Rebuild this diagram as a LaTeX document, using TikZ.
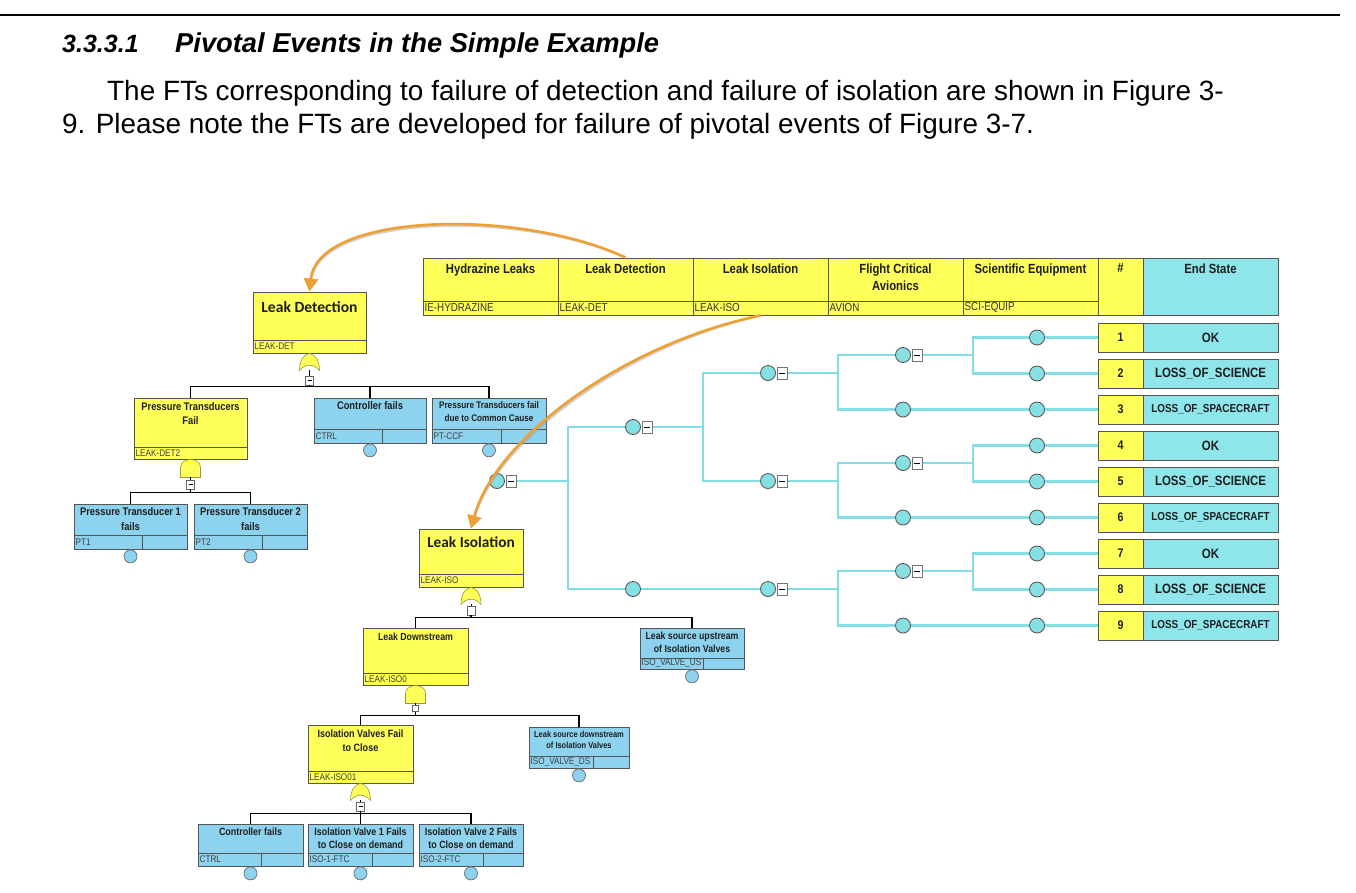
\documentclass[tikz,border=0pt]{standalone}
\usepackage{fontspec}
\setmainfont{Liberation Sans}
\newfontfamily\narrowf[FakeStretch=0.85]{Liberation Sans}
\newfontfamily\calibf{Carlito}
\usetikzlibrary{arrows.meta,fit,calc}
\definecolor{ylw}{HTML}{FFFF5A}
\definecolor{ftbl}{HTML}{8DD3EF}
\definecolor{esc}{HTML}{8EE6EA}
\definecolor{etl}{HTML}{82DEE2}
\definecolor{etcf}{HTML}{86E0E2}
\definecolor{org}{HTML}{EFA035}
\definecolor{bdr}{HTML}{555555}
\definecolor{txt}{HTML}{1E1E1E}
\definecolor{bigt}{HTML}{3A3A3A}

\newcommand\ttf{\narrowf\bfseries\fontsize{11}{14}\selectfont}
\newcommand\setttf[2]{\renewcommand\ttf{\narrowf\bfseries\fontsize{#1}{#2}\selectfont}}

% gate box: [title offset]{name}{x1}{y1}{x2}{y2}{ydiv}{title}{id}
\newcommand\ftgate[9][5]{%
  \node[ygbox, fit={(#3,#4) (#5,#6)}] (#2) {};
  \draw[divl] (#3,#7) -- (#5,#7);
  \node[fttitle, anchor=north] at ($(#2.north)+(0,#1)$) {#8};
  \node[ftid, anchor=west] at ($(#3,#7)!0.5!(#3,#6)$) {#9};
}
% basic event: {name}{x1}{y1}{x2}{y2}{ydiv}{xsplit}{title}{id}
\newcommand\ftbasic[9]{%
  \node[bbox, fit={(#2,#3) (#4,#5)}] (#1) {};
  \draw[divl] (#2,#6) -- (#4,#6);
  \draw[divl] (#7,#6) -- (#7,#5);
  \node[fttitle, anchor=north] at ($(#1.north)+(0,4)$) {#8};
  \node[ftid, anchor=west] at ($(#2,#6)!0.5!(#2,#5)$) {#9};
  \node[ftcirc, anchor=north] (#1c) at (#1.south) {};
}
% event tree header column: {name}{x1}{title}{id}
\newcommand\etcol[4]{%
  \node[ycell, fit={(#2,258) ({#2+135},315)}] (#1) {};
  \draw[divl] (#2,301) -- ({#2+135},301);
  \node[ettitle, anchor=north] at ($(#1.north)+(0,6)$) {#3};
  \node[etid, anchor=west] at (#2,308) {#4};
}

\begin{document}
\begin{tikzpicture}[x=1pt,y=-1pt,
  ygbox/.style={draw=bdr, line width=0.9, fill=ylw, inner sep=0},
  bbox/.style={draw=bdr, line width=0.9, fill=ftbl, inner sep=0},
  divl/.style={draw=bdr, line width=0.8},
  fttitle/.style={font=\ttf, text=txt, align=center, inner sep=0},
  ftid/.style={font=\narrowf\fontsize{9.6}{10}\selectfont, text=black!75, inner sep=1.5},
  ftcirc/.style={circle, draw=black!55, fill=ftbl, minimum size=13, inner sep=0, line width=0.8},
  ftm/.style={draw=black!60, fill=white, minimum width=8, minimum height=9, inner sep=0, line width=0.6},
  treeln/.style={draw=black, line width=1.6},
  gatefill/.style={fill=ylw, draw=ylw!60!black, line width=0.6},
  etline/.style={draw=etl, line width=2.4},
  etcn/.style={circle, draw=black!65, fill=etcf, minimum size=15, inner sep=0, line width=0.9},
  etm/.style={draw=black!55, fill=white, minimum width=10, minimum height=12, inner sep=0, line width=0.7},
  ycell/.style={draw=bdr, fill=ylw, line width=0.9, inner sep=0},
  ccell/.style={draw=bdr, fill=esc, line width=0.9, inner sep=0},
  ettitle/.style={font=\narrowf\bfseries\fontsize{13.3}{17}\selectfont, text=txt, align=center, inner sep=0},
  etid/.style={font=\narrowf\fontsize{11.5}{11.5}\selectfont, text=black!80, inner sep=1.5},
  estxt/.style={text=txt, inner sep=0},
  oarrow/.style={draw=org, line width=2.6, -{Triangle[length=13pt,width=14pt]}},
  oshadow/.style={draw=black!40, line width=2.6, opacity=0.45, -{Triangle[length=13pt,width=14pt]}},
  orgate/.pic={\path[gatefill] (-10,17) .. controls (-10,7) and (-6,1) .. (0,0) .. controls (6,1) and (10,7) .. (10,17) .. controls (4,10) and (-4,10) .. (-10,17) -- cycle;},
  andgate/.pic={\path[gatefill] (-10,18) -- (-10,8) .. controls (-10,-2.5) and (10,-2.5) .. (10,8) -- (10,18) -- cycle;}
]
\useasboundingbox (0,0) rectangle (1356,892);
\fill[white] (0,0) rectangle (1356,892);

% ---------- page text ----------
\draw[line width=2] (0,15) -- (1340,15);
\node[anchor=base west, inner sep=0, font=\fontsize{25}{28}\selectfont\bfseries\itshape] (hd1) at (62,52) {3.3.3.1};
\node[anchor=base west, inner sep=0, font=\fontsize{27.3}{30}\selectfont\bfseries\itshape] (hd2) at (175,52) {Pivotal Events in the Simple Example};
\node[anchor=base west, inner sep=0, font=\fontsize{27.9}{32}\selectfont] (p1) at (107,100) {The FTs corresponding to failure of detection and failure of isolation are shown in Figure 3-};
\node[anchor=base west, inner sep=0, font=\fontsize{27.9}{32}\selectfont] (p2) at (62,133) {9. Please note the FTs are developed for failure of pivotal events of Figure 3-7.};

% ---------- event tree header ----------
\etcol{hHL}{423}{Hydrazine Leaks}{IE-HYDRAZINE}
\etcol{hLD}{558}{Leak Detection}{LEAK-DET}
\etcol{hLI}{693}{Leak Isolation}{LEAK-ISO}
\etcol{hFC}{828}{Flight Critical\\Avionics}{AVION}
\etcol{hSE}{963}{Scientific Equipment}{SCI-EQUIP}
\node[ycell, fit={(1098,258) (1143,315)}] (hN) {};
\node[ettitle, anchor=north] at ($(hN.north)+(0,6)$) {\#};
\node[ccell, fit={(1143,258) (1278,315)}] (hES) {};
\node[ettitle, anchor=north] at ($(hES.north)+(0,6)$) {End State};

% ---------- end states ----------
\foreach \k/\t/\s in {1/OK/13.5, 2/LOSS\_OF\_SCIENCE/13.5, 3/LOSS\_OF\_SPACECRAFT/11.6, 4/OK/13.5, 5/LOSS\_OF\_SCIENCE/13.5, 6/LOSS\_OF\_SPACECRAFT/11.6, 7/OK/13.5, 8/LOSS\_OF\_SCIENCE/13.5, 9/LOSS\_OF\_SPACECRAFT/11.6}{
  \pgfmathsetmacro\yt{323+36*(\k-1)}
  \node[ycell, fit={(1098,\yt) (1143,{\yt+29})}] (N\k) {};
  \node[ccell, fit={(1143,\yt) (1278,{\yt+29})}] (S\k) {};
  \node[estxt, font=\narrowf\bfseries\fontsize{12.5}{12.5}\selectfont] at (N\k.center) {\k};
  \node[estxt, font=\narrowf\bfseries\fontsize{\s}{\s}\selectfont] at (S\k.center) {\t};
  \node[etcn] (E\k) at (1037,{\yt+14.5}) {};
}

% ---------- event tree ----------
\node[etcn] (I) at (497,481) {};
\node[etm, anchor=west] (Im) at ($(I.east)+(1,0)$) {\rule{6pt}{0.8pt}};
\coordinate (j1) at (568,481);
\node[etcn] (A) at (633,427) {};
\node[etm, anchor=west] (Am) at ($(A.east)+(1,0)$) {\rule{6pt}{0.8pt}};
\node[etcn] (B) at (633,589) {};
\coordinate (j2) at (703,427);
\node[etcn] (AA) at (768,373) {};
\node[etm, anchor=west] (AAm) at ($(AA.east)+(1,0)$) {\rule{6pt}{0.8pt}};
\node[etcn] (AB) at (768,481) {};
\node[etm, anchor=west] (ABm) at ($(AB.east)+(1,0)$) {\rule{6pt}{0.8pt}};
\node[etcn] (BA) at (768,589) {};
\node[etm, anchor=west] (BAm) at ($(BA.east)+(1,0)$) {\rule{6pt}{0.8pt}};
\coordinate (j3) at (838,373);
\coordinate (j4) at (838,481);
\coordinate (j5) at (838,589);
\node[etcn] (AAA) at (903,355) {};
\node[etm, anchor=west] (AAAm) at ($(AAA.east)+(1,0)$) {\rule{6pt}{0.8pt}};
\node[etcn] (AAB) at (903,409.5) {};
\node[etcn] (ABA) at (903,463) {};
\node[etm, anchor=west] (ABAm) at ($(ABA.east)+(1,0)$) {\rule{6pt}{0.8pt}};
\node[etcn] (ABB) at (903,517.5) {};
\node[etcn] (BAA) at (903,571) {};
\node[etm, anchor=west] (BAAm) at ($(BAA.east)+(1,0)$) {\rule{6pt}{0.8pt}};
\node[etcn] (BAB) at (903,625.5) {};
\coordinate (j6) at (973,355);
\coordinate (j7) at (973,463);
\coordinate (j8) at (973,571);

\draw[etline] (Im.east) -- (j1);
\draw[etline] (A.west) -| (j1);
\draw[etline] (B.west) -| (j1);
\draw[etline] (Am.east) -- (j2);
\draw[etline] (AA.west) -| (j2);
\draw[etline] (AB.west) -| (j2);
\draw[etline] (B.east) -- (BA.west);
\draw[etline] (AAm.east) -- (j3);
\draw[etline] (AAA.west) -| (j3);
\draw[etline] (AAB.west) -| (j3);
\draw[etline] (ABm.east) -- (j4);
\draw[etline] (ABA.west) -| (j4);
\draw[etline] (ABB.west) -| (j4);
\draw[etline] (BAm.east) -- (j5);
\draw[etline] (BAA.west) -| (j5);
\draw[etline] (BAB.west) -| (j5);
\draw[etline] (AAAm.east) -- (j6);
\draw[etline] (E1.west) -| (j6);
\draw[etline] (E2.west) -| (j6);
\draw[etline] (AAB.east) -- (E3.west);
\draw[etline] (ABAm.east) -- (j7);
\draw[etline] (E4.west) -| (j7);
\draw[etline] (E5.west) -| (j7);
\draw[etline] (ABB.east) -- (E6.west);
\draw[etline] (BAAm.east) -- (j8);
\draw[etline] (E7.west) -| (j8);
\draw[etline] (E8.west) -| (j8);
\draw[etline] (BAB.east) -- (E9.west);
\foreach \k in {1,...,9}{\draw[etline] (E\k.east) -- (N\k.west);}

% ---------- fault tree: Leak Detection ----------
\renewcommand\ttf{\calibf\bfseries\fontsize{15.6}{17}\selectfont\color{bigt}}
\ftgate[10]{LD}{253}{292}{366}{353}{340}{Leak Detection}{LEAK-DET}
\setttf{11}{14}
\ftgate{PTF}{134}{398}{247}{459}{447}{Pressure Transducers\\Fail}{LEAK-DET2}
\ftbasic{CTRL}{314}{398}{426}{443}{429}{382}{Controller fails}{CTRL}
\setttf{9.6}{12.5}
\ftbasic{CCF}{432}{398}{546}{443}{429}{501}{Pressure Transducers fail\\due to Common Cause}{PT-CCF}
\setttf{11}{14.5}
\ftbasic{PT1}{74}{504}{187}{549}{535}{142}{Pressure Transducer 1\\fails}{PT1}
\ftbasic{PT2}{194}{504}{307}{549}{535}{262}{Pressure Transducer 2\\fails}{PT2}

\pic at (LD.south) {orgate};
\coordinate (g1) at ($(LD.south)+(0,17)$);
\node[ftm] (g1m) at ($(LD.south)+(0,27)$) {\rule{4pt}{0.6pt}};
\coordinate (g1b) at ($(LD.south)+(0,33)$);
\draw[treeln, line width=0.8] (g1) -- (g1m.north);
\draw[treeln] (g1m.south) -- (g1b);
\draw[treeln] (PTF.north) |- (g1b) -| (CCF.north);
\draw[treeln] (CTRL.north) |- (g1b);

\pic at (PTF.south) {andgate};
\coordinate (g2) at ($(PTF.south)+(0,18)$);
\node[ftm] (g2m) at ($(PTF.south)+(0,25)$) {\rule{4pt}{0.6pt}};
\coordinate (g2b) at ($(PTF.south)+(0,33)$);
\draw[treeln, line width=0.8] (g2) -- (g2m.north);
\draw[treeln] (g2m.south) -- (g2b);
\draw[treeln] (PT1.north) |- (g2b) -| (PT2.north);

% ---------- fault tree: Leak Isolation ----------
\renewcommand\ttf{\calibf\bfseries\fontsize{15.3}{17}\selectfont\color{bigt}}
\ftgate[8]{LI}{419}{529}{523}{587}{574}{Leak Isolation}{LEAK-ISO}
\setttf{10.3}{13}
\ftgate{LDS}{363}{628}{468}{685}{673}{Leak Downstream}{LEAK-ISO0}
\ftbasic{LUS}{640}{628}{744}{669}{658}{703}{Leak source upstream\\of Isolation Valves}{ISO\_VALVE\_US}
\setttf{10.6}{14}
\ftgate{IVF}{308}{725}{413}{783}{771}{Isolation Valves Fail\\to Close}{LEAK-ISO01}
\setttf{8.8}{11}
\ftbasic{LSD}{529}{727}{629}{768}{756}{593}{Leak source downstream\\of Isolation Valves}{ISO\_VALVE\_DS}
\setttf{10.5}{13.5}
\ftbasic{CF2}{198}{824}{303}{866}{853}{261}{Controller fails}{CTRL}
\ftbasic{IV1}{308}{824}{413}{866}{853}{372}{Isolation Valve 1 Fails\\to Close on demand}{ISO-1-FTC}
\ftbasic{IV2}{419}{824}{523}{866}{853}{483}{Isolation Valve 2 Fails\\to Close on demand}{ISO-2-FTC}

\pic at (LI.south) {orgate};
\coordinate (g3) at ($(LI.south)+(0,17)$);
\node[ftm] (g3m) at ($(LI.south)+(0,23)$) {};
\coordinate (g3b) at ($(LI.south)+(0,30)$);
\draw[treeln, line width=0.8] (g3) -- (g3m.north);
\draw[treeln] (g3m.south) -- (g3b);
\draw[treeln] (LDS.north) |- (g3b) -| (LUS.north);

\pic at (LDS.south) {andgate};
\coordinate (g4) at ($(LDS.south)+(0,18)$);
\node[ftm, minimum width=6, minimum height=6] (g4m) at ($(LDS.south)+(0,23)$) {};
\coordinate (g4b) at ($(LDS.south)+(0,30)$);
\draw[treeln, line width=0.8] (g4) -- (g4m.north);
\draw[treeln] (g4m.south) -- (g4b);
\draw[treeln] (IVF.north) |- (g4b) -| (LSD.north);

\pic at (IVF.south) {orgate};
\coordinate (g5) at ($(IVF.south)+(0,17)$);
\node[ftm] (g5m) at ($(IVF.south)+(0,23)$) {\rule{4pt}{0.6pt}};
\coordinate (g5b) at ($(IVF.south)+(0,30)$);
\draw[treeln, line width=0.8] (g5) -- (g5m.north);
\draw[treeln] (g5m.south) -- (g5b);
\draw[treeln] (CF2.north) |- (g5b) -| (IV2.north);
\draw[treeln] (IV1.north) |- (g5b);

% ---------- orange arrows ----------
\draw[oshadow, xshift=2pt, yshift=-2pt] (hLD.north) .. controls (520,208) and (318,212) .. (LD.north);
\draw[oarrow] (hLD.north) .. controls (520,208) and (318,212) .. (LD.north);
\draw[oshadow, xshift=2pt, yshift=-2pt] (hLI.south) .. controls (620,345) and (495,440) .. (LI.north);
\draw[oarrow] (hLI.south) .. controls (620,345) and (495,440) .. (LI.north);
\end{tikzpicture}
\end{document}
